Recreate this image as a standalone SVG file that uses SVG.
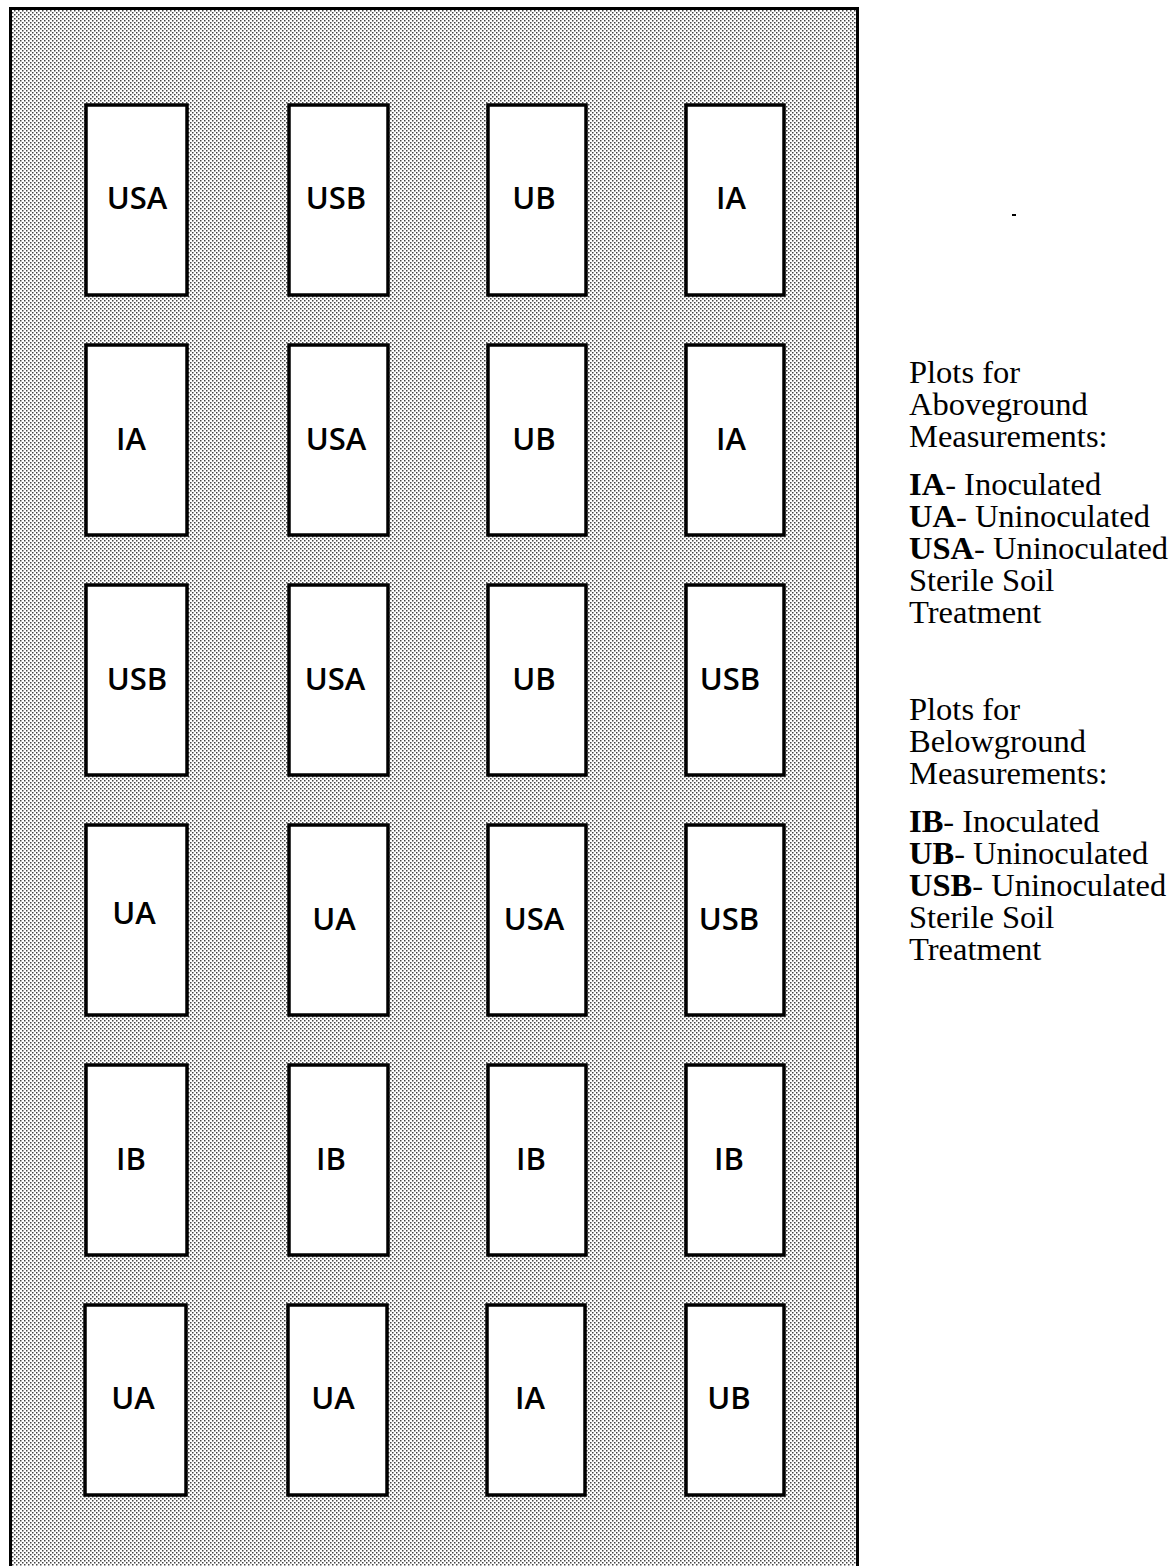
<svg xmlns="http://www.w3.org/2000/svg" width="1176" height="1566" viewBox="0 0 1176 1566">
<defs>
<pattern id="stipple" width="4" height="4" patternUnits="userSpaceOnUse">
<rect width="4" height="4" fill="#ffffff"/>
<rect x="0" y="0" width="1.5" height="1.5" fill="#444"/>
<rect x="2" y="2" width="1.5" height="1.5" fill="#444"/>
</pattern>
<style>
.plot{fill:#ffffff;stroke:#000;stroke-width:3.5}
.lbl{font-family:"Open Sans","Liberation Sans",sans-serif;font-size:31px;font-weight:600;fill:#000;text-anchor:middle}
.leg{font-family:"Liberation Serif","Times New Roman",serif;font-size:32.5px;fill:#000}
.b{font-weight:bold}
</style>
</defs>
<rect width="1176" height="1566" fill="#ffffff"/>
<g id="field">
<rect x="10.5" y="8.5" width="847" height="1580" fill="url(#stipple)" stroke="#000" stroke-width="3"/>
</g>
<g id="r1c1"><rect class="plot" x="86" y="105" width="101" height="190"/><text class="lbl" x="137" y="209">USA</text></g>
<g id="r1c2"><rect class="plot" x="289" y="105" width="99" height="190"/><text class="lbl" x="336" y="209">USB</text></g>
<g id="r1c3"><rect class="plot" x="488" y="105" width="98" height="190"/><text class="lbl" x="534" y="209">UB</text></g>
<g id="r1c4"><rect class="plot" x="686" y="105" width="98" height="190"/><text class="lbl" x="731" y="209">IA</text></g>

<g id="r2c1"><rect class="plot" x="86" y="345" width="101" height="190"/><text class="lbl" x="131" y="450">IA</text></g>
<g id="r2c2"><rect class="plot" x="289" y="345" width="99" height="190"/><text class="lbl" x="336" y="450">USA</text></g>
<g id="r2c3"><rect class="plot" x="488" y="345" width="98" height="190"/><text class="lbl" x="534" y="450">UB</text></g>
<g id="r2c4"><rect class="plot" x="686" y="345" width="98" height="190"/><text class="lbl" x="731" y="450">IA</text></g>

<g id="r3c1"><rect class="plot" x="86" y="585" width="101" height="190"/><text class="lbl" x="137" y="690">USB</text></g>
<g id="r3c2"><rect class="plot" x="289" y="585" width="99" height="190"/><text class="lbl" x="335" y="690">USA</text></g>
<g id="r3c3"><rect class="plot" x="488" y="585" width="98" height="190"/><text class="lbl" x="534" y="690">UB</text></g>
<g id="r3c4"><rect class="plot" x="686" y="585" width="98" height="190"/><text class="lbl" x="730" y="690">USB</text></g>

<g id="r4c1"><rect class="plot" x="86" y="825" width="101" height="190"/><text class="lbl" x="134" y="924">UA</text></g>
<g id="r4c2"><rect class="plot" x="289" y="825" width="99" height="190"/><text class="lbl" x="334" y="930">UA</text></g>
<g id="r4c3"><rect class="plot" x="488" y="825" width="98" height="190"/><text class="lbl" x="534" y="930">USA</text></g>
<g id="r4c4"><rect class="plot" x="686" y="825" width="98" height="190"/><text class="lbl" x="729" y="930">USB</text></g>

<g id="r5c1"><rect class="plot" x="86" y="1065" width="101" height="190"/><text class="lbl" x="131" y="1170">IB</text></g>
<g id="r5c2"><rect class="plot" x="289" y="1065" width="99" height="190"/><text class="lbl" x="331" y="1170">IB</text></g>
<g id="r5c3"><rect class="plot" x="488" y="1065" width="98" height="190"/><text class="lbl" x="531" y="1170">IB</text></g>
<g id="r5c4"><rect class="plot" x="686" y="1065" width="98" height="190"/><text class="lbl" x="729" y="1170">IB</text></g>

<g id="r6c1"><rect class="plot" x="85" y="1305" width="101" height="190"/><text class="lbl" x="133" y="1409">UA</text></g>
<g id="r6c2"><rect class="plot" x="288" y="1305" width="99" height="190"/><text class="lbl" x="333" y="1409">UA</text></g>
<g id="r6c3"><rect class="plot" x="487" y="1305" width="98" height="190"/><text class="lbl" x="530" y="1409">IA</text></g>
<g id="r6c4"><rect class="plot" x="686" y="1305" width="98" height="190"/><text class="lbl" x="729" y="1409">UB</text></g>

<g id="legend-above">
<text class="leg" x="909" y="383">Plots for</text>
<text class="leg" x="909" y="415">Aboveground</text>
<text class="leg" x="909" y="447">Measurements:</text>
<text class="leg" x="909" y="495"><tspan class="b">IA</tspan>- Inoculated</text>
<text class="leg" x="909" y="527"><tspan class="b">UA</tspan>- Uninoculated</text>
<text class="leg" x="909" y="559"><tspan class="b">USA</tspan>- Uninoculated</text>
<text class="leg" x="909" y="591">Sterile Soil</text>
<text class="leg" x="909" y="623">Treatment</text>
</g>
<g id="legend-below">
<text class="leg" x="909" y="720">Plots for</text>
<text class="leg" x="909" y="752">Belowground</text>
<text class="leg" x="909" y="784">Measurements:</text>
<text class="leg" x="909" y="832"><tspan class="b">IB</tspan>- Inoculated</text>
<text class="leg" x="909" y="864"><tspan class="b">UB</tspan>- Uninoculated</text>
<text class="leg" x="909" y="896"><tspan class="b">USB</tspan>- Uninoculated</text>
<text class="leg" x="909" y="928">Sterile Soil</text>
<text class="leg" x="909" y="960">Treatment</text>
</g>
<rect x="1012" y="214" width="4" height="2" fill="#000"/>
</svg>
